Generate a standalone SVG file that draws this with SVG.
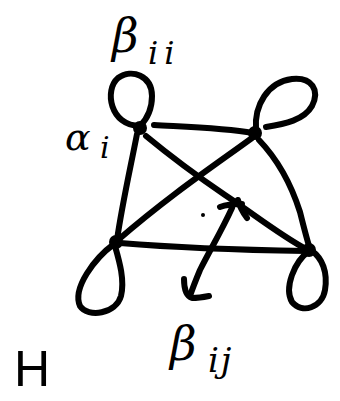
<svg xmlns="http://www.w3.org/2000/svg" width="340" height="401" viewBox="0 0 340 401">
<style>
.s{fill:none;stroke:#000;stroke-width:6;stroke-linecap:round;stroke-linejoin:round}
.n{fill:#000}
.t{font-family:"DejaVu Serif",serif;font-style:italic;fill:#000}
</style>
<rect width="340" height="401" fill="#fff"/>
<g id="connectors">
<path class="s" d="M154,125 C190,127 225,128 253,133"/>
<path class="s" d="M137,134 C130,170 122,205 117,240"/>
<path class="s" d="M146,136 C175,160 200,178 225,195 C255,215 280,235 306,249"/>
<path class="s" d="M252,138 C215,165 170,195 118,240"/>
<path class="s" d="M259,140 C280,162 293,190 300,212 C304,228 307,240 310,249"/>
<path class="s" d="M120,243 C180,248 240,250 306,251"/>
<path class="s" d="M232,208 C222,230 210,250 200,270 C195,282 192,290 190,296"/>
<path class="s" d="M184,279 C184,290 186,296 192,298 C198,298 204,297 209,296"/>
<path class="s" d="M220,207 C228,204 236,204 242,204 M238,200 C240,208 244,214 247,218"/>
</g>
<g id="loop-tl"><path class="s" d="M140,126 C110,126 104,90 118,78 C132,68 152,76 152,96 C152,110 146,120 140,126"/></g>
<g id="loop-tr"><path class="s" d="M256,130 C254,105 268,82 292,79 C312,77 320,90 312,106 C304,120 285,124 266,127"/></g>
<g id="loop-bl"><path class="s" d="M114,244 C95,258 72,288 80,306 C88,318 116,314 121,296 C125,280 119,260 115,246"/></g>
<g id="loop-br"><path class="s" d="M309,251 C294,262 284,288 292,302 C302,314 322,308 325,290 C328,272 322,258 312,251"/></g>
<g id="node-tl"><circle class="n" cx="140" cy="128" r="7"/></g>
<g id="node-tr"><circle class="n" cx="255" cy="133" r="7"/></g>
<g id="node-bl"><circle class="n" cx="116" cy="242" r="7"/></g>
<g id="node-br"><circle class="n" cx="309" cy="250" r="7"/></g>
<circle class="n" cx="203" cy="215" r="2"/>
<g id="labels">
<text class="t" x="112" y="52" font-size="46">β</text>
<text class="t" x="148" y="64" font-size="32" letter-spacing="6">ii</text>
<text class="t" x="65" y="150" font-size="38">α</text>
<text class="t" x="100" y="158" font-size="30">i</text>
<text class="t" x="170" y="360" font-size="46">β</text>
<text class="t" x="208" y="372" font-size="34" letter-spacing="2">ij</text>
<text x="14" y="386" font-family="Liberation Sans, sans-serif" font-size="50" fill="#000">H</text>
</g>
</svg>
